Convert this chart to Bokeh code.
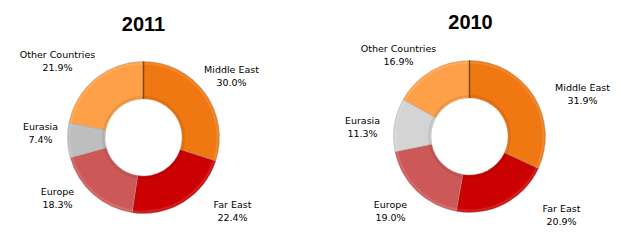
import math
from bokeh.plotting import figure
from bokeh.models import Range1d, ColumnDataSource
from bokeh.core.properties import value
from bokeh.embed import file_html
from bokeh.resources import INLINE

# ---- data ----
regions = ["Middle East", "Far East", "Europe", "Eurasia", "Other Countries"]
share_2011 = [30.0, 22.4, 18.3, 7.4, 21.9]
share_2010 = [31.9, 20.9, 19.0, 11.3, 16.9]
years = ["2011", "2010"]

# ---- style / layout ----
W, H = 621, 244
colors_2011 = ["#F07812", "#CC0202", "#CD5858", "#BEBEBE", "#FDA048"]
colors_2010 = ["#F07812", "#CC0202", "#CD5858", "#D4D4D4", "#FDA048"]
centers = [(143, 137), (469, 136)]
r_out, r_in = 76, 38.5
title_pos = [(143, 23), (470, 21)]
label_pos = [
    [(231, 75), (232, 210), (57, 197), (40, 132), (57, 60)],
    [(582, 93), (561, 214), (390, 210), (362, 126), (398, 54)],
]

p = figure(width=W, height=H, x_range=Range1d(0, W), y_range=Range1d(0, H),
           output_backend="svg", toolbar_location=None, min_border=0)
p.axis.visible = False
p.grid.visible = False
p.outline_line_color = None
p.background_fill_color = "white"
p.border_fill_color = "white"

FONT = value("DejaVu Sans")

for k, (shares, cols) in enumerate([(share_2011, colors_2011), (share_2010, colors_2010)]):
    cx, cy_s = centers[k]
    cy = H - cy_s
    total = sum(shares)
    starts, ends = [], []
    cum = 0.0
    for s in shares:
        starts.append(math.pi / 2 - cum / total * 2 * math.pi)
        cum += s
        ends.append(math.pi / 2 - cum / total * 2 * math.pi)
    src = ColumnDataSource(dict(
        x=[cx] * len(shares), y=[cy] * len(shares),
        start=starts, end=ends, color=cols,
    ))
    p.annular_wedge(x="x", y="y", inner_radius=r_in, outer_radius=r_out,
                    start_angle="start", end_angle="end", direction="clock",
                    fill_color="color", line_color="#9a9a9a", line_width=0.6,
                    line_alpha=0.6, source=src)
    # subtle bevel highlight
    p.annular_wedge(x="x", y="y", inner_radius=r_out - 3, outer_radius=r_out - 1,
                    start_angle="start", end_angle="end", direction="clock",
                    fill_color="white", fill_alpha=0.12, line_color=None, source=src)
    p.annular_wedge(x="x", y="y", inner_radius=r_in + 1, outer_radius=r_in + 3,
                    start_angle="start", end_angle="end", direction="clock",
                    fill_color="black", fill_alpha=0.08, line_color=None, source=src)
    # dark separator at the top
    p.segment(x0=[cx], y0=[cy + r_in], x1=[cx], y1=[cy + r_out],
              line_color="#7A4A1A", line_width=1.5)

    lx = [pt[0] for pt in label_pos[k]]
    ly = [H - pt[1] for pt in label_pos[k]]
    pct = ["%.1f%%" % s for s in shares]
    p.text(x=lx, y=ly, text=regions, y_offset=-6, text_align="center",
           text_baseline="middle", text_font=FONT, text_font_size="9.5px",
           text_color="#000000")
    p.text(x=lx, y=ly, text=pct, y_offset=7, text_align="center",
           text_baseline="middle", text_font=FONT, text_font_size="9.5px",
           text_color="#000000")
    tx, ty = title_pos[k]
    p.text(x=[tx], y=[H - ty], text=[years[k]], text_align="center",
           text_baseline="middle", text_font=value("Liberation Sans"),
           text_font_style="bold", text_font_size="20px", text_color="#000000")

open("out.html", "w").write(file_html(p, INLINE))
